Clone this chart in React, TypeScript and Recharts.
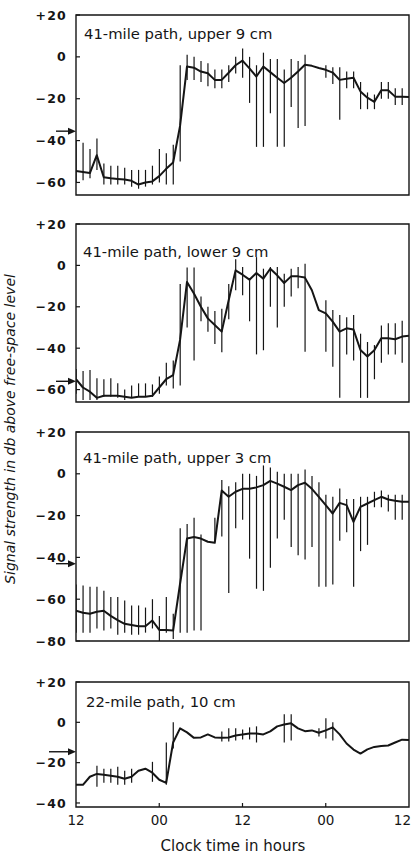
import React from 'react';
import { ComposedChart, Line, Bar, XAxis, YAxis, ReferenceArea, ReferenceDot } from 'recharts';

// ---------- data ----------
const HOURS = [0, 1, 2, 3, 4, 5, 6, 7, 8, 9, 10, 11, 12, 13, 14, 15, 16, 17, 18, 19, 20, 21, 22, 23, 24,
  25, 26, 27, 28, 29, 30, 31, 32, 33, 34, 35, 36, 37, 38, 39, 40, 41, 42, 43, 44, 45, 46, 47, 48];
const TIME_TICKS = [0, 12, 24, 36, 48];
const TIME_LABELS = ['12', '00', '12', '00', '12'];

const P1_TITLE = '41-mile path, upper 9 cm';
const P1_YTICKS = [20, 0, -20, -40, -60];
const P1_ARROW = -35.5;
const P1_VALUES = [-54.5, -55, -55.5, -47, -57.5, -58, -58.3, -58.6, -59.2, -61, -60, -59.5, -57, -53.5, -50.5, -33,
  -4.6, -5.2, -7, -7.8, -11, -11, -7.6, -4, -1.8, -5.5, -9.4, -4.6, -7.3, -10, -12.5, -10, -7, -3.8, -4.3, -5.3,
  -6.2, -7.5, -11, -10.5, -10, -16.5, -19.5, -21.5, -16, -16, -19, -19, -19.2];
const P1_LOW = [-60, -59, -58, -54, -61, -61, -61, -61, -62, -63, -62, -61, -60, -61, -61, -50, -11, -11, -12, -14, -15,
  -15, -12, -8, -10, -22, -43, -43, -27, -43, -43, -24, -34, -33, null, null, -10, -13, -30, -15, -15, -25, -25, -25,
  -20, -20, -23, -23, null];
const P1_HIGH = [-40, -41, -44, -39, -51, -52, -52, -53, -54, -54, -54, -52, -44, -46, -42, -4, 1, 0, -2, -3, -6, -6,
  -4, 0, 4, 0, -4, 2, -1, -1, -6, -1, -2, 1, null, null, -4, -5, -5, -7, -7, -12, -17, -18, -12, -12, -15, -15, null];

const P2_TITLE = '41-mile path, lower 9 cm';
const P2_YTICKS = [20, 0, -20, -40, -60];
const P2_ARROW = -56;
const P2_VALUES = [-55, -59, -61, -64, -63, -63, -63, -63.5, -64, -63.5, -63.5, -63, -59, -55, -53, -36, -8, -13.6,
  -20, -25.6, -28.8, -32, -17, -2.4, -4.5, -6.9, -3.7, -6.4, -1.6, -4.8, -8.5, -5.3, -5.3, -5.9, -12, -21.6, -23.2,
  -27.2, -32, -30.4, -31, -40.9, -44, -41, -35.2, -35.2, -35.7, -34.4, -34];
const P2_LOW = [-62, -65, -65, -65, -63.5, -63.5, -64, -65, -64, -63.5, -63.5, -63.5, -62, -58, -59.5, -58, -30, -46,
  -27, -32, -38, -42, -26, -12, -14.4, -27, -43, -41, -20, -30, -20, -15, -11, -41.7, null, null, -41.7, -49, -64, -43,
  -46, -64, -64, -55, -47, -43, -43, -47, null];
const P2_HIGH = [-50, -51, -50.5, -54.5, -55, -54.5, -57, -60, -58, -57, -57, -57.5, -53.7, -47, -46, -9, -1, -1, -15,
  -20, -22, -21, -9, 3, -0.8, -6.4, 4, -1.6, -0.8, -0.8, -4, -1.6, -0.8, 0.8, null, null, -16.8, -21.6, -24, -25, -24,
  -33, -37, -38.5, -29, -28, -28, -26.7, null];

const P3_TITLE = '41-mile path, upper 3 cm';
const P3_YTICKS = [20, 0, -20, -40, -60, -80];
const P3_ARROW = -43;
const P3_VALUES = [-65.5, -66.5, -67, -66, -65.5, -68, -70, -71.8, -72.3, -72.9, -72.9, -70.2, -74.7, -74.7, -75, -52.6,
  -31, -30.2, -31, -32.5, -33, -8, -11, -8.6, -7.2, -7.2, -6.5, -5.4, -3.4, -4.7, -6.2, -7.8, -5.4, -4.3, -7.2, -11,
  -15, -19, -13.9, -15, -23, -15.8, -14.2, -12.6, -11, -12.3, -12.9, -13.4, -13.4];
const P3_LOW = [-76, -76, -76, -74, -75, -74, -77, -76, -77, -77, -76, -74, -80, -76, -79, -76, -76, -75, -75, null, -32,
  -30, -57, -26, -22, -40.6, -55, -56, -45, -31, -22, -35, -39, -41, -35, -54, -54, -53, -32, -28, -54, -37, -34, -16,
  -16, -18, -22, -22, null];
const P3_HIGH = [-53, -53.4, -54, -54, -56, -59, -59, -60.6, -63, -63, -64, -60, -68, -59, -67, -26, -24, -21, -29, null,
  -21, -3, -6, -4, 0, 0, -1, 4, 3, 1, 0, 0, 0, 2, -1, -4, -10, -11, -7, -12, -12, -11, -11, -8.6, -8, -10, -10, -10,
  null];

const P4_TITLE = '22-mile path, 10 cm';
const P4_YTICKS = [20, 0, -20, -40];
const P4_ARROW = -14.6;
const P4_VALUES = [-31, -31, -27, -25.6, -26, -26.5, -27, -28, -27, -24, -23, -25, -28.5, -30, -10, -3, -5, -7.7, -7.5,
  -6, -7.5, -7.7, -7.5, -6.5, -6, -5.5, -5.5, -6, -4.5, -2, -1.1, -0.5, -3, -4.4, -4, -5.2, -4, -2.5, -6, -10.5, -13.5,
  -15.5, -13.4, -12.2, -11.7, -11.5, -10, -8.6, -8.8];
const P4_LOW = [null, null, null, -32, -30, -30, -31, -31, -30, null, null, -29.5, null, -31, -13, null, null, null,
  null, null, null, -9.5, -9.5, -9, -8.5, -8.5, -10, null, null, null, -10, -9, null, null, null, -7, -8, -9, null,
  null, null, null, null, null, null, null, null, null, null];
const P4_HIGH = [null, null, null, -21.5, -23, -23, -22, -24, -23, null, null, -19.6, null, -10, 0, null, null, null,
  null, null, null, -4.5, -3, -3, -3.5, -2.5, -2, null, null, null, 4, 4, null, null, null, -3, 2, 0, null, null, null,
  null, null, null, null, null, null, null, null];

const Y_TITLE = 'Signal strength in db above free-space level';
const X_TITLE = 'Clock time in hours';

// ---------- rendering ----------
const INK = '#151515';
const FONT = "'DejaVu Sans', sans-serif";

const fmt = (v: number) => (v > 0 ? '+' + v : v < 0 ? '\u2212' + -v : '0');

const YTick = (props: any) => {
  const { x, y, payload } = props;
  return (
    <g>
      <line x1={x} x2={x + 4} y1={y} y2={y} stroke={INK} strokeWidth={1.2} />
      <text x={x - 9} y={y} dy={4.6} textAnchor="end" fontFamily={FONT} fontWeight="bold" fontSize={12.5}
        letterSpacing={1.2} fill={INK}>{fmt(payload.value)}</text>
    </g>
  );
};

const XTick = (props: any) => {
  const { x, y, payload, showLabels } = props;
  const idx = TIME_TICKS.indexOf(payload.value);
  const inner = idx > 0 && idx < TIME_TICKS.length - 1;
  const last = idx === TIME_TICKS.length - 1;
  return (
    <g>
      {inner && <line x1={x} x2={x} y1={y - 4} y2={y} stroke={INK} strokeWidth={1.2} />}
      {showLabels && (
        <text x={last ? x + 2 : x} y={y + 18} textAnchor={last ? 'end' : 'middle'} fontFamily={FONT} fontSize={13.5}
          fill={INK}>
          {TIME_LABELS[idx]}
        </text>
      )}
    </g>
  );
};

const Arrow = (props: any) => {
  const { cx, cy, len } = props;
  return (
    <g>
      <line x1={cx - len} x2={cx - 5} y1={cy} y2={cy} stroke={INK} strokeWidth={1.4} />
      <polygon points={`${cx},${cy} ${cx - 8},${cy - 3.5} ${cx - 8},${cy + 3.5}`} fill={INK} />
    </g>
  );
};

type PanelProps = {
  top: number; height: number; marginTop: number; marginBottom: number; xAxisHeight: number;
  showXLabels: boolean; domain: [number, number]; yTicks: number[]; values: number[];
  low: (number | null)[]; high: (number | null)[]; arrow: number; arrowLen: number;
};

function Panel(p: PanelProps) {
  const rows = HOURS.map((h, i) => ({
    h,
    v: p.values[i],
    range: p.low[i] == null ? [p.values[i], p.values[i]] : [p.low[i], p.high[i]],
  }));
  return (
    <div style={{ position: 'absolute', left: 0, top: p.top }}>
      <ComposedChart width={411} height={p.height} data={rows}
        margin={{ top: p.marginTop, right: 2, bottom: p.marginBottom, left: 0 }}>
        <XAxis type="number" dataKey="h" domain={[0, 48]} ticks={TIME_TICKS} interval={0} axisLine={false}
          tickLine={false} tickSize={0} tickMargin={0} height={p.xAxisHeight}
          tick={<XTick showLabels={p.showXLabels} />} allowDataOverflow />
        <YAxis type="number" domain={p.domain} ticks={p.yTicks} interval={0} width={76} axisLine={false}
          tickLine={false} tickSize={0} tickMargin={0} tick={<YTick />} allowDataOverflow />
        <Bar dataKey="range" barSize={1.2} fill={INK} isAnimationActive={false} />
        <Line type="linear" dataKey="v" stroke={INK} strokeWidth={2} dot={false} isAnimationActive={false}
          strokeLinejoin="round" />
        <ReferenceArea x1={0} x2={48} y1={p.domain[0]} y2={p.domain[1]} fill="none" fillOpacity={0}
          stroke={INK} strokeWidth={1.4} ifOverflow="visible" />
        <ReferenceDot x={0} y={p.arrow} r={1} ifOverflow="visible"
          shape={(sp: any) => <Arrow {...sp} len={p.arrowLen} />} />
      </ComposedChart>
    </div>
  );
}

export default function App() {
  return (
    <div style={{ position: 'absolute', left: 0, top: 0, width: 411, height: 854, background: '#fff', overflow: 'hidden' }}>
      <Panel top={0} height={200} marginTop={15} marginBottom={5} xAxisHeight={0} showXLabels={false}
        domain={[-66, 20]} yTicks={P1_YTICKS} values={P1_VALUES} low={P1_LOW} high={P1_HIGH} arrow={P1_ARROW} arrowLen={20} />
      <Panel top={205} height={200} marginTop={19} marginBottom={3} xAxisHeight={0} showXLabels={false}
        domain={[-66, 20]} yTicks={P2_YTICKS} values={P2_VALUES} low={P2_LOW} high={P2_HIGH} arrow={P2_ARROW} arrowLen={20} />
      <Panel top={410} height={242} marginTop={22} marginBottom={11} xAxisHeight={0} showXLabels={false}
        domain={[-80, 20]} yTicks={P3_YTICKS} values={P3_VALUES} low={P3_LOW} high={P3_HIGH} arrow={P3_ARROW} arrowLen={20} />
      <Panel top={650} height={204} marginTop={32} marginBottom={0} xAxisHeight={47} showXLabels={true}
        domain={[-42, 20]} yTicks={P4_YTICKS} values={P4_VALUES} low={P4_LOW} high={P4_HIGH} arrow={P4_ARROW} arrowLen={27} />
      <svg width={411} height={854} style={{ position: 'absolute', left: 0, top: 0, pointerEvents: 'none' }}>
        <g fontFamily={FONT} fontSize={14.8} fill={INK}>
          <text x={84} y={39}>{P1_TITLE}</text>
          <text x={83} y={257}>{P2_TITLE}</text>
          <text x={83} y={463}>{P3_TITLE}</text>
          <text x={86} y={707}>{P4_TITLE}</text>
        </g>
        <text transform="translate(15,429) rotate(-90)" textAnchor="middle" fontFamily={FONT} fontStyle="italic"
          fontSize={14} fill={INK}>{Y_TITLE}</text>
        <text x={233} y={851} textAnchor="middle" fontFamily={FONT} fontSize={15} fill={INK}>{X_TITLE}</text>
      </svg>
    </div>
  );
}
